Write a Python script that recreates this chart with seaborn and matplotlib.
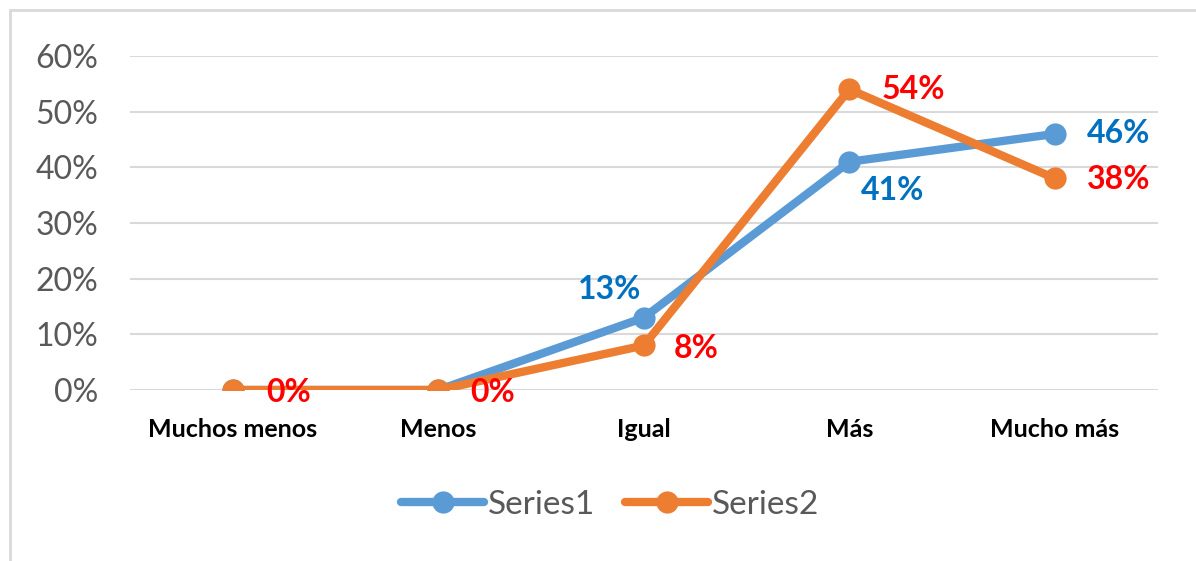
import matplotlib
matplotlib.use("Agg")
import matplotlib.pyplot as plt
import seaborn as sns
import pandas as pd
from matplotlib.lines import Line2D

categories = ["Muchos menos", "Menos", "Igual", "Más", "Mucho más"]
series1 = [0.0, 0.0, 0.13, 0.41, 0.46]
series2 = [0.0, 0.0, 0.08, 0.54, 0.38]
series_names = ["Series1", "Series2"]
yticks = [0, 0.1, 0.2, 0.3, 0.4, 0.5, 0.6]

sns.set_theme(style="white")
plt.rcParams['font.family'] = ['Lato', 'DejaVu Sans']

df = pd.DataFrame({
    "cat": list(range(len(categories))) * 2,
    "value": series1 + series2,
    "series": [series_names[0]] * len(categories) + [series_names[1]] * len(categories),
})

colors = {"Series1": "#5B9BD5", "Series2": "#ED7D31"}

fig = plt.figure(figsize=(11.96, 5.61), dpi=100)
ax = fig.add_axes([0.1087, 0.3048, 0.968 - 0.1087, 0.9002 - 0.3048])

sns.lineplot(data=df, x="cat", y="value", hue="series", palette=colors,
             marker="o", markersize=16, linewidth=6, markeredgewidth=0,
             ax=ax, legend=True, solid_capstyle="round")

ax.set_xlim(-0.5, len(categories) - 0.5)
ax.set_ylim(0, 0.6)
ax.set_yticks(yticks)
ax.set_yticklabels([f"{int(round(t*100))}%" for t in yticks], fontsize=23, color="#595959")
ax.set_xticks(range(len(categories)))
ax.set_xticklabels(categories, fontsize=18, fontweight="bold", color="#000000")
ax.tick_params(axis="both", length=0)
ax.tick_params(axis="y", pad=23)
ax.tick_params(axis="x", pad=20)
ax.set_xlabel("")
ax.set_ylabel("")
ax.grid(axis="y", color="#D9D9D9", linewidth=1.5)
ax.set_axisbelow(True)
for s in ax.spines.values():
    s.set_visible(False)

# data labels
lab_kw = dict(fontsize=23, fontweight="bold", textcoords="offset points")
c1 = "#0070C0"
c2 = "#FF0000"
off1 = [None, None, (-24.5, 20), (31, -21), (46, 0)]
for i, (v, off) in enumerate(zip(series1, off1)):
    if off is None:
        continue
    ax.annotate(f"{int(round(v*100))}%", (i, v), xytext=off, color=c1,
                ha="center", va="center", **lab_kw)
off2 = [(40, -1.5), (39, -1.5), (38, -2), (46, 0), (46, -1)]
for i, (v, off) in enumerate(zip(series2, off2)):
    ax.annotate(f"{int(round(v*100))}%", (i, v), xytext=off, color=c2,
                ha="center", va="center", **lab_kw)

leg = ax.legend(loc="center", bbox_to_anchor=(610/1196, 1 - 505/561), bbox_transform=fig.transFigure,
                ncol=2, frameon=False, fontsize=24, handlelength=2.5, columnspacing=0.9,
                handletextpad=0.1)
for t in leg.get_texts():
    t.set_color("#595959")
for h in leg.get_lines():
    h.set_linewidth(6)
    h.set_markersize(16)

# outer chart border (left and top only visible)
fig.add_artist(Line2D([10/1196, 10/1196], [0, 1 - 10/561], transform=fig.transFigure,
                      color="#D9D9D9", linewidth=2))
fig.add_artist(Line2D([10/1196, 1], [1 - 10/561, 1 - 10/561], transform=fig.transFigure,
                      color="#D9D9D9", linewidth=2))

fig.savefig("out.png", dpi=100)
